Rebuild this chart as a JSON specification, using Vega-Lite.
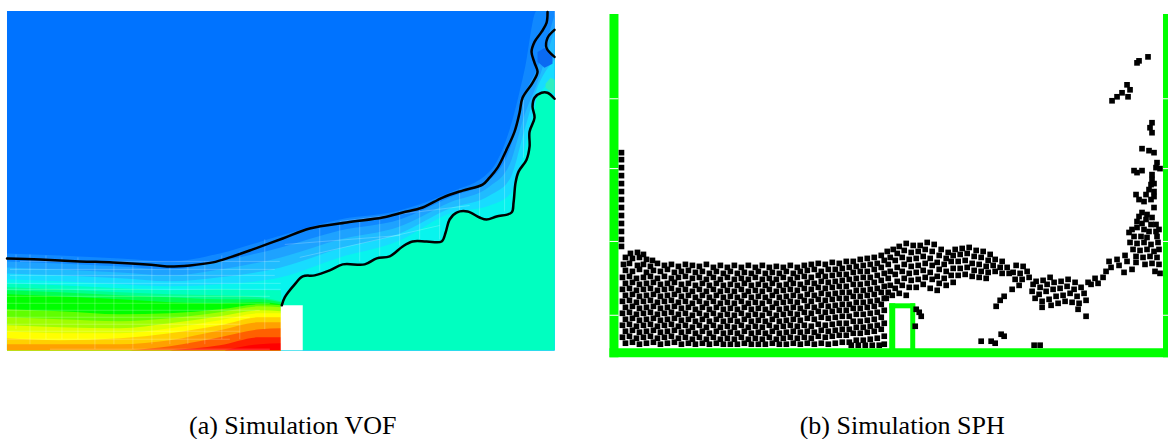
{"$schema":"https://vega.github.io/schema/vega-lite/v6.json","width":1169,"height":439,"padding":0,"autosize":{"type":"fit","contains":"padding"},"background":"white","view":{"stroke":null},
"resolve":{"scale":{"color":"independent"}},
"datasets":{
"bands":[
{"b":"bg","x":7,"y":11},{"b":"bg","x":555,"y":11},
{"b":"b1","x":7,"y":254},{"b":"b1","x":60,"y":256},{"b":"b1","x":120,"y":259},{"b":"b1","x":170,"y":262},{"b":"b1","x":220,"y":254},{"b":"b1","x":281,"y":236},{"b":"b1","x":340,"y":220},{"b":"b1","x":400,"y":211},{"b":"b1","x":450,"y":193},{"b":"b1","x":490,"y":172},{"b":"b1","x":510,"y":130},{"b":"b1","x":525,"y":70},{"b":"b1","x":537,"y":11},{"b":"b1","x":555,"y":11},
{"b":"b2","x":7,"y":262},{"b":"b2","x":60,"y":264},{"b":"b2","x":120,"y":267},{"b":"b2","x":170,"y":270},{"b":"b2","x":220,"y":262},{"b":"b2","x":281,"y":248},{"b":"b2","x":340,"y":231},{"b":"b2","x":400,"y":220},{"b":"b2","x":450,"y":198},{"b":"b2","x":490,"y":180},{"b":"b2","x":510,"y":150},{"b":"b2","x":525,"y":95},{"b":"b2","x":537,"y":70},{"b":"b2","x":555,"y":15},
{"b":"b3","x":7,"y":268},{"b":"b3","x":60,"y":270},{"b":"b3","x":120,"y":273},{"b":"b3","x":170,"y":276},{"b":"b3","x":220,"y":270},{"b":"b3","x":281,"y":258},{"b":"b3","x":340,"y":240},{"b":"b3","x":400,"y":227},{"b":"b3","x":450,"y":203},{"b":"b3","x":490,"y":187},{"b":"b3","x":510,"y":165},{"b":"b3","x":525,"y":115},{"b":"b3","x":537,"y":85},{"b":"b3","x":555,"y":30},
{"b":"b4","x":7,"y":274},{"b":"b4","x":60,"y":276},{"b":"b4","x":120,"y":279},{"b":"b4","x":170,"y":282},{"b":"b4","x":220,"y":278},{"b":"b4","x":281,"y":268},{"b":"b4","x":340,"y":249},{"b":"b4","x":400,"y":234},{"b":"b4","x":450,"y":209},{"b":"b4","x":490,"y":196},{"b":"b4","x":510,"y":180},{"b":"b4","x":525,"y":130},{"b":"b4","x":537,"y":90},{"b":"b4","x":555,"y":60},
{"b":"b5","x":7,"y":280},{"b":"b5","x":60,"y":282},{"b":"b5","x":120,"y":285},{"b":"b5","x":170,"y":287},{"b":"b5","x":220,"y":285},{"b":"b5","x":281,"y":278},{"b":"b5","x":340,"y":258},{"b":"b5","x":400,"y":241},{"b":"b5","x":450,"y":214},{"b":"b5","x":490,"y":206},{"b":"b5","x":510,"y":195},{"b":"b5","x":525,"y":150},{"b":"b5","x":537,"y":100},{"b":"b5","x":555,"y":80},
{"b":"s","x":7,"y":284},{"b":"s","x":60,"y":286},{"b":"s","x":120,"y":289},{"b":"s","x":170,"y":291},{"b":"s","x":220,"y":290},{"b":"s","x":281,"y":291},{"b":"s","x":282,"y":306},{"b":"s","x":285,"y":298},{"b":"s","x":295,"y":285},{"b":"s","x":303,"y":277},{"b":"s","x":315,"y":276},{"b":"s","x":330,"y":271},{"b":"s","x":343,"y":265},{"b":"s","x":365,"y":265},{"b":"s","x":377,"y":259},{"b":"s","x":390,"y":257},{"b":"s","x":403,"y":247},{"b":"s","x":413,"y":242},{"b":"s","x":442,"y":242},{"b":"s","x":446,"y":233},{"b":"s","x":450,"y":220},{"b":"s","x":457,"y":213},{"b":"s","x":468,"y":212},{"b":"s","x":480,"y":218},{"b":"s","x":487,"y":220},{"b":"s","x":497,"y":217},{"b":"s","x":512,"y":213},{"b":"s","x":514,"y":203},{"b":"s","x":516,"y":183},{"b":"s","x":520,"y":170},{"b":"s","x":527,"y":160},{"b":"s","x":530,"y":147},{"b":"s","x":531,"y":132},{"b":"s","x":535,"y":112},{"b":"s","x":537,"y":98},{"b":"s","x":542,"y":93},{"b":"s","x":548,"y":93},{"b":"s","x":555,"y":99},
{"b":"g1","x":7,"y":288},{"b":"g1","x":60,"y":290},{"b":"g1","x":120,"y":293},{"b":"g1","x":170,"y":295},{"b":"g1","x":220,"y":296},{"b":"g1","x":260,"y":298},{"b":"g1","x":281,"y":302},
{"b":"g2","x":7,"y":291},{"b":"g2","x":60,"y":293},{"b":"g2","x":120,"y":296},{"b":"g2","x":170,"y":298},{"b":"g2","x":220,"y":300},{"b":"g2","x":260,"y":300},{"b":"g2","x":281,"y":303},
{"b":"g3","x":7,"y":295},{"b":"g3","x":60,"y":297},{"b":"g3","x":120,"y":300},{"b":"g3","x":170,"y":303},{"b":"g3","x":220,"y":304},{"b":"g3","x":260,"y":303},{"b":"g3","x":281,"y":305},
{"b":"g4","x":7,"y":310},{"b":"g4","x":60,"y":312},{"b":"g4","x":120,"y":315},{"b":"g4","x":170,"y":314},{"b":"g4","x":220,"y":310},{"b":"g4","x":260,"y":305},{"b":"g4","x":281,"y":306},
{"b":"g5","x":7,"y":318},{"b":"g5","x":60,"y":320},{"b":"g5","x":120,"y":322},{"b":"g5","x":170,"y":319},{"b":"g5","x":220,"y":313},{"b":"g5","x":260,"y":307},{"b":"g5","x":281,"y":308},
{"b":"g6","x":7,"y":326},{"b":"g6","x":60,"y":328},{"b":"g6","x":120,"y":329},{"b":"g6","x":170,"y":324},{"b":"g6","x":220,"y":317},{"b":"g6","x":260,"y":311},{"b":"g6","x":281,"y":312},
{"b":"g7","x":7,"y":332},{"b":"g7","x":60,"y":334},{"b":"g7","x":120,"y":334},{"b":"g7","x":170,"y":329},{"b":"g7","x":220,"y":321},{"b":"g7","x":260,"y":314},{"b":"g7","x":281,"y":314},
{"b":"g8","x":7,"y":339},{"b":"g8","x":60,"y":341},{"b":"g8","x":120,"y":339},{"b":"g8","x":170,"y":334},{"b":"g8","x":220,"y":326},{"b":"g8","x":260,"y":318},{"b":"g8","x":281,"y":318},
{"b":"g9","x":7,"y":345},{"b":"g9","x":60,"y":345},{"b":"g9","x":120,"y":345},{"b":"g9","x":170,"y":341},{"b":"g9","x":220,"y":331},{"b":"g9","x":260,"y":323},{"b":"g9","x":281,"y":323},
{"b":"g10","x":130,"y":351},{"b":"g10","x":170,"y":347},{"b":"g10","x":220,"y":338},{"b":"g10","x":260,"y":330},{"b":"g10","x":281,"y":329},
{"b":"g11","x":170,"y":351},{"b":"g11","x":220,"y":346},{"b":"g11","x":260,"y":338},{"b":"g11","x":281,"y":338},
{"b":"g12","x":225,"y":351},{"b":"g12","x":260,"y":345},{"b":"g12","x":281,"y":344}
],
"patches":[
{"p":"dark","x":538,"y":52,"y2":62},{"p":"dark","x":545,"y":48,"y2":68},{"p":"dark","x":553,"y":54,"y2":64},
{"p":"mint","x":546,"y":84,"y2":88},{"p":"mint","x":551,"y":78,"y2":92},{"p":"mint","x":555,"y":80,"y2":94}
],
"grid":[
{"x":20,"x2":280,"y":262,"y2":262},{"x":10,"x2":275,"y":270,"y2":270},{"x":10,"x2":275,"y":276,"y2":276},{"x":7,"x2":281,"y":284,"y2":284},{"x":7,"x2":281,"y":290,"y2":290},{"x":7,"x2":270,"y":297,"y2":297},{"x":7,"x2":270,"y":304,"y2":304},{"x":7,"x2":260,"y":311,"y2":311},{"x":7,"x2":250,"y":318,"y2":318},{"x":7,"x2":240,"y":325,"y2":325},{"x":7,"x2":240,"y":332,"y2":332},{"x":7,"x2":230,"y":340,"y2":340},{"x":50,"x2":270,"y":350,"y2":350},
{"x":16,"x2":16,"y":255,"y2":330},{"x":30,"x2":30,"y":255,"y2":345},{"x":46,"x2":46,"y":256,"y2":340},{"x":62,"x2":62,"y":258,"y2":340},{"x":78,"x2":78,"y":258,"y2":340},{"x":95,"x2":95,"y":262,"y2":350},{"x":114,"x2":114,"y":262,"y2":345},{"x":133,"x2":133,"y":265,"y2":350},{"x":152,"x2":152,"y":265,"y2":345},{"x":170,"x2":170,"y":266,"y2":345},{"x":188,"x2":188,"y":265,"y2":345},{"x":205,"x2":205,"y":262,"y2":345},{"x":222,"x2":222,"y":256,"y2":340},{"x":240,"x2":240,"y":252,"y2":340},{"x":265,"x2":265,"y":240,"y2":330},
{"x":285,"x2":400,"y":245,"y2":236},{"x":300,"x2":440,"y":258,"y2":226},{"x":340,"x2":470,"y":222,"y2":206},{"x":320,"x2":320,"y":228,"y2":272},{"x":340,"x2":340,"y":225,"y2":266},{"x":360,"x2":360,"y":222,"y2":262},{"x":380,"x2":380,"y":219,"y2":258},{"x":400,"x2":400,"y":212,"y2":246},{"x":420,"x2":420,"y":207,"y2":240},{"x":440,"x2":440,"y":198,"y2":240},{"x":460,"x2":460,"y":190,"y2":212},{"x":480,"x2":480,"y":185,"y2":216},{"x":505,"x2":505,"y":150,"y2":212},{"x":524,"x2":524,"y":100,"y2":158}
],
"rects":[
{"k":"wall","x":610,"x2":619,"y":14,"y2":358},{"k":"wall","x":610,"x2":1169,"y":349,"y2":358},{"k":"wall","x":1164,"x2":1169,"y":14,"y2":358},
{"k":"wall","x":890,"x2":896,"y":304,"y2":350},{"k":"wall","x":911,"x2":916,"y":304,"y2":350},{"k":"wall","x":890,"x2":916,"y":304,"y2":309},
{"k":"hole","x":281,"x2":303,"y":306,"y2":351}
],
"ticks":[
{"x":610,"x2":619,"y":99},{"x":610,"x2":619,"y":169},{"x":610,"x2":619,"y":242},{"x":610,"x2":619,"y":316},
{"x":1164,"x2":1169,"y":99},{"x":1164,"x2":1169,"y":169},{"x":1164,"x2":1169,"y":242},{"x":1164,"x2":1169,"y":316}
],
"curves":[
{"c":"top","i":1,"x":548,"y":12},{"c":"top","i":2,"x":547,"y":23},{"c":"top","i":3,"x":542,"y":32},{"c":"top","i":4,"x":535,"y":42},{"c":"top","i":5,"x":532,"y":52},{"c":"top","i":6,"x":535,"y":63},{"c":"top","i":7,"x":538,"y":72},{"c":"top","i":8,"x":533,"y":83},{"c":"top","i":9,"x":523,"y":98},{"c":"top","i":10,"x":520,"y":113},{"c":"top","i":11,"x":515,"y":132},{"c":"top","i":12,"x":507,"y":150},{"c":"top","i":13,"x":498,"y":168},{"c":"top","i":14,"x":490,"y":178},{"c":"top","i":15,"x":483,"y":185},{"c":"top","i":16,"x":463,"y":191},{"c":"top","i":17,"x":443,"y":198},{"c":"top","i":18,"x":423,"y":208},{"c":"top","i":19,"x":403,"y":213},{"c":"top","i":20,"x":383,"y":218},{"c":"top","i":21,"x":347,"y":223},{"c":"top","i":22,"x":310,"y":229},{"c":"top","i":23,"x":283,"y":239},{"c":"top","i":24,"x":253,"y":250},{"c":"top","i":25,"x":230,"y":258},{"c":"top","i":26,"x":213,"y":263},{"c":"top","i":27,"x":190,"y":266},{"c":"top","i":28,"x":167,"y":267},{"c":"top","i":29,"x":147,"y":265},{"c":"top","i":30,"x":113,"y":263},{"c":"top","i":31,"x":80,"y":262},{"c":"top","i":32,"x":40,"y":260},{"c":"top","i":33,"x":7,"y":259},
{"c":"wave","i":1,"x":555,"y":99},{"c":"wave","i":2,"x":548,"y":93},{"c":"wave","i":3,"x":542,"y":93},{"c":"wave","i":4,"x":535,"y":98},{"c":"wave","i":5,"x":533,"y":107},{"c":"wave","i":6,"x":535,"y":118},{"c":"wave","i":7,"x":530,"y":132},{"c":"wave","i":8,"x":530,"y":147},{"c":"wave","i":9,"x":527,"y":160},{"c":"wave","i":10,"x":519,"y":172},{"c":"wave","i":11,"x":516,"y":183},{"c":"wave","i":12,"x":514,"y":203},{"c":"wave","i":13,"x":512,"y":213},{"c":"wave","i":14,"x":497,"y":217},{"c":"wave","i":15,"x":487,"y":220},{"c":"wave","i":16,"x":480,"y":218},{"c":"wave","i":17,"x":468,"y":212},{"c":"wave","i":18,"x":457,"y":213},{"c":"wave","i":19,"x":450,"y":220},{"c":"wave","i":20,"x":446,"y":233},{"c":"wave","i":21,"x":442,"y":242},{"c":"wave","i":22,"x":427,"y":242},{"c":"wave","i":23,"x":413,"y":242},{"c":"wave","i":24,"x":403,"y":247},{"c":"wave","i":25,"x":390,"y":257},{"c":"wave","i":26,"x":377,"y":259},{"c":"wave","i":27,"x":365,"y":265},{"c":"wave","i":28,"x":343,"y":265},{"c":"wave","i":29,"x":330,"y":271},{"c":"wave","i":30,"x":315,"y":276},{"c":"wave","i":31,"x":303,"y":277},{"c":"wave","i":32,"x":295,"y":285},{"c":"wave","i":33,"x":285,"y":298},{"c":"wave","i":34,"x":282,"y":306},
{"c":"loop","i":1,"x":555,"y":30},{"c":"loop","i":2,"x":548,"y":38},{"c":"loop","i":3,"x":547,"y":48},{"c":"loop","i":4,"x":555,"y":57}
],
"captions":[{"x":293,"y":427,"t":"(a) Simulation VOF"},{"x":903,"y":427,"t":"(b) Simulation SPH"}],
"particles":[
{"x":622,"y":153},{"x":622,"y":160},{"x":622,"y":168},{"x":622,"y":176},{"x":622,"y":184},{"x":622,"y":192},{"x":622,"y":200},{"x":622,"y":208},{"x":622,"y":216},{"x":622,"y":224},{"x":622,"y":232},{"x":622,"y":240},{"x":622,"y":247},
{"x":631,"y":254},{"x":638,"y":253},{"x":644,"y":255},{"x":626,"y":258},{"x":633,"y":259},{"x":640,"y":258},{"x":647,"y":260},{"x":653,"y":261},
{"x":624,"y":265},{"x":630,"y":264},{"x":638,"y":266},{"x":644,"y":265},{"x":651,"y":267},{"x":658,"y":264},{"x":665,"y":266},{"x":672,"y":265},{"x":679,"y":267},{"x":686,"y":265},{"x":693,"y":266},{"x":700,"y":267},{"x":707,"y":265},{"x":714,"y":268},{"x":721,"y":266},{"x":728,"y":268},{"x":735,"y":266},{"x":742,"y":268},{"x":749,"y":266},{"x":756,"y":268},{"x":763,"y":266},{"x":770,"y":268},{"x":777,"y":267},{"x":784,"y":268},{"x":791,"y":266},{"x":798,"y":268},{"x":805,"y":266},{"x":812,"y":265},{"x":819,"y":264},{"x":826,"y":265},{"x":833,"y":263},{"x":840,"y":264},{"x":847,"y":262},{"x":854,"y":262},{"x":861,"y":260},{"x":868,"y":259},{"x":875,"y":258},{"x":882,"y":256},{"x":888,"y":252},{"x":894,"y":250},
{"x":626,"y":271},{"x":633,"y":272},{"x":640,"y":270},{"x":647,"y":273},{"x":654,"y":271},{"x":661,"y":272},{"x":668,"y":270},{"x":675,"y":273},{"x":682,"y":272},{"x":689,"y":271},{"x":696,"y":273},{"x":703,"y":272},{"x":710,"y":274},{"x":717,"y":272},{"x":724,"y":274},{"x":731,"y":272},{"x":738,"y":274},{"x":745,"y":273},{"x":752,"y":274},{"x":759,"y":272},{"x":766,"y":274},{"x":773,"y":273},{"x":780,"y":274},{"x":787,"y":272},{"x":794,"y":274},{"x":801,"y":272},{"x":808,"y":271},{"x":815,"y":270},{"x":822,"y":272},{"x":829,"y":270},{"x":836,"y":270},{"x":843,"y":269},{"x":850,"y":268},{"x":857,"y":267},{"x":864,"y":266},{"x":871,"y":265},{"x":878,"y":264},{"x":885,"y":261},
{"x":623,"y":278},{"x":630,"y":277},{"x":637,"y":279},{"x":644,"y":278},{"x":651,"y":277},{"x":658,"y":279},{"x":665,"y":277},{"x":672,"y":279},{"x":679,"y":278},{"x":686,"y":277},{"x":693,"y":279},{"x":700,"y":278},{"x":707,"y":280},{"x":714,"y":278},{"x":721,"y":280},{"x":728,"y":278},{"x":735,"y":280},{"x":742,"y":279},{"x":749,"y":280},{"x":756,"y":278},{"x":763,"y":280},{"x":770,"y":279},{"x":777,"y":280},{"x":784,"y":278},{"x":791,"y":280},{"x":798,"y":278},{"x":805,"y":277},{"x":812,"y":278},{"x":819,"y":276},{"x":826,"y":277},{"x":833,"y":276},{"x":840,"y":275},{"x":847,"y":275},{"x":854,"y":273},{"x":861,"y":272},{"x":868,"y":272},{"x":875,"y":270},{"x":882,"y":268},
{"x":626,"y":284},{"x":633,"y":283},{"x":640,"y":285},{"x":647,"y":284},{"x":654,"y":283},{"x":661,"y":285},{"x":668,"y":284},{"x":675,"y":283},{"x":682,"y":285},{"x":689,"y":284},{"x":696,"y":286},{"x":703,"y":284},{"x":710,"y":286},{"x":717,"y":284},{"x":724,"y":286},{"x":731,"y":285},{"x":738,"y":286},{"x":745,"y":284},{"x":752,"y":286},{"x":759,"y":285},{"x":766,"y":286},{"x":773,"y":284},{"x":780,"y":286},{"x":787,"y":285},{"x":794,"y":284},{"x":801,"y":285},{"x":808,"y":283},{"x":815,"y":284},{"x":822,"y":282},{"x":829,"y":283},{"x":836,"y":282},{"x":843,"y":281},{"x":850,"y":280},{"x":857,"y":279},{"x":864,"y":278},{"x":871,"y":278},{"x":878,"y":276},{"x":885,"y":274},
{"x":623,"y":290},{"x":630,"y":289},{"x":637,"y":291},{"x":644,"y":290},{"x":651,"y":289},{"x":658,"y":291},{"x":665,"y":290},{"x":672,"y":289},{"x":679,"y":291},{"x":686,"y":290},{"x":693,"y":292},{"x":700,"y":290},{"x":707,"y":292},{"x":714,"y":290},{"x":721,"y":292},{"x":728,"y":291},{"x":735,"y":292},{"x":742,"y":290},{"x":749,"y":292},{"x":756,"y":291},{"x":763,"y":292},{"x":770,"y":290},{"x":777,"y":292},{"x":784,"y":291},{"x":791,"y":290},{"x":798,"y":291},{"x":805,"y":289},{"x":812,"y":290},{"x":819,"y":288},{"x":826,"y":289},{"x":833,"y":288},{"x":840,"y":287},{"x":847,"y":287},{"x":854,"y":285},{"x":861,"y":285},{"x":868,"y":284},{"x":875,"y":283},{"x":882,"y":281},
{"x":626,"y":296},{"x":633,"y":295},{"x":640,"y":297},{"x":647,"y":296},{"x":654,"y":295},{"x":661,"y":297},{"x":668,"y":296},{"x":675,"y":295},{"x":682,"y":297},{"x":689,"y":296},{"x":696,"y":298},{"x":703,"y":296},{"x":710,"y":298},{"x":717,"y":296},{"x":724,"y":298},{"x":731,"y":297},{"x":738,"y":298},{"x":745,"y":296},{"x":752,"y":298},{"x":759,"y":297},{"x":766,"y":298},{"x":773,"y":296},{"x":780,"y":298},{"x":787,"y":297},{"x":794,"y":296},{"x":801,"y":297},{"x":808,"y":295},{"x":815,"y":296},{"x":822,"y":294},{"x":829,"y":295},{"x":836,"y":294},{"x":843,"y":293},{"x":850,"y":293},{"x":857,"y":291},{"x":864,"y":291},{"x":871,"y":290},{"x":878,"y":289},{"x":885,"y":287},
{"x":623,"y":302},{"x":630,"y":301},{"x":637,"y":303},{"x":644,"y":302},{"x":651,"y":301},{"x":658,"y":303},{"x":665,"y":302},{"x":672,"y":301},{"x":679,"y":303},{"x":686,"y":302},{"x":693,"y":304},{"x":700,"y":302},{"x":707,"y":304},{"x":714,"y":302},{"x":721,"y":304},{"x":728,"y":303},{"x":735,"y":304},{"x":742,"y":302},{"x":749,"y":304},{"x":756,"y":303},{"x":763,"y":304},{"x":770,"y":302},{"x":777,"y":304},{"x":784,"y":303},{"x":791,"y":302},{"x":798,"y":303},{"x":805,"y":301},{"x":812,"y":302},{"x":819,"y":300},{"x":826,"y":301},{"x":833,"y":300},{"x":840,"y":299},{"x":847,"y":299},{"x":854,"y":297},{"x":861,"y":297},{"x":868,"y":296},{"x":875,"y":295},{"x":882,"y":293},
{"x":626,"y":308},{"x":633,"y":307},{"x":640,"y":309},{"x":647,"y":308},{"x":654,"y":307},{"x":661,"y":309},{"x":668,"y":308},{"x":675,"y":307},{"x":682,"y":309},{"x":689,"y":308},{"x":696,"y":310},{"x":703,"y":308},{"x":710,"y":310},{"x":717,"y":308},{"x":724,"y":310},{"x":731,"y":309},{"x":738,"y":310},{"x":745,"y":308},{"x":752,"y":310},{"x":759,"y":309},{"x":766,"y":310},{"x":773,"y":308},{"x":780,"y":310},{"x":787,"y":309},{"x":794,"y":308},{"x":801,"y":309},{"x":808,"y":307},{"x":815,"y":308},{"x":822,"y":306},{"x":829,"y":307},{"x":836,"y":306},{"x":843,"y":305},{"x":850,"y":305},{"x":857,"y":303},{"x":864,"y":303},{"x":871,"y":302},{"x":878,"y":301},{"x":885,"y":299},
{"x":623,"y":314},{"x":630,"y":313},{"x":637,"y":315},{"x":644,"y":314},{"x":651,"y":313},{"x":658,"y":315},{"x":665,"y":314},{"x":672,"y":313},{"x":679,"y":315},{"x":686,"y":314},{"x":693,"y":316},{"x":700,"y":314},{"x":707,"y":316},{"x":714,"y":314},{"x":721,"y":316},{"x":728,"y":315},{"x":735,"y":316},{"x":742,"y":314},{"x":749,"y":316},{"x":756,"y":315},{"x":763,"y":316},{"x":770,"y":314},{"x":777,"y":316},{"x":784,"y":315},{"x":791,"y":314},{"x":798,"y":315},{"x":805,"y":313},{"x":812,"y":314},{"x":819,"y":312},{"x":826,"y":313},{"x":833,"y":312},{"x":840,"y":311},{"x":847,"y":311},{"x":854,"y":309},{"x":861,"y":309},{"x":868,"y":308},{"x":875,"y":307},{"x":882,"y":305},
{"x":626,"y":320},{"x":633,"y":319},{"x":640,"y":321},{"x":647,"y":320},{"x":654,"y":319},{"x":661,"y":321},{"x":668,"y":320},{"x":675,"y":319},{"x":682,"y":321},{"x":689,"y":320},{"x":696,"y":322},{"x":703,"y":320},{"x":710,"y":322},{"x":717,"y":320},{"x":724,"y":322},{"x":731,"y":321},{"x":738,"y":322},{"x":745,"y":320},{"x":752,"y":322},{"x":759,"y":321},{"x":766,"y":322},{"x":773,"y":320},{"x":780,"y":322},{"x":787,"y":321},{"x":794,"y":320},{"x":801,"y":321},{"x":808,"y":319},{"x":815,"y":320},{"x":822,"y":318},{"x":829,"y":319},{"x":836,"y":318},{"x":843,"y":317},{"x":850,"y":317},{"x":857,"y":315},{"x":864,"y":315},{"x":871,"y":314},{"x":878,"y":313},{"x":885,"y":311},
{"x":623,"y":326},{"x":630,"y":325},{"x":637,"y":327},{"x":644,"y":326},{"x":651,"y":325},{"x":658,"y":327},{"x":665,"y":326},{"x":672,"y":325},{"x":679,"y":327},{"x":686,"y":326},{"x":693,"y":328},{"x":700,"y":326},{"x":707,"y":328},{"x":714,"y":326},{"x":721,"y":328},{"x":728,"y":327},{"x":735,"y":328},{"x":742,"y":326},{"x":749,"y":328},{"x":756,"y":327},{"x":763,"y":328},{"x":770,"y":326},{"x":777,"y":328},{"x":784,"y":327},{"x":791,"y":326},{"x":798,"y":327},{"x":805,"y":326},{"x":812,"y":327},{"x":819,"y":325},{"x":826,"y":326},{"x":833,"y":325},{"x":840,"y":324},{"x":847,"y":324},{"x":854,"y":322},{"x":861,"y":322},{"x":868,"y":321},{"x":875,"y":320},{"x":882,"y":318},
{"x":626,"y":332},{"x":633,"y":331},{"x":640,"y":333},{"x":647,"y":332},{"x":654,"y":331},{"x":661,"y":333},{"x":668,"y":332},{"x":675,"y":331},{"x":682,"y":333},{"x":689,"y":332},{"x":696,"y":334},{"x":703,"y":332},{"x":710,"y":334},{"x":717,"y":332},{"x":724,"y":334},{"x":731,"y":333},{"x":738,"y":334},{"x":745,"y":332},{"x":752,"y":334},{"x":759,"y":333},{"x":766,"y":334},{"x":773,"y":332},{"x":780,"y":334},{"x":787,"y":333},{"x":794,"y":332},{"x":801,"y":333},{"x":808,"y":332},{"x":815,"y":333},{"x":822,"y":331},{"x":829,"y":332},{"x":836,"y":331},{"x":843,"y":330},{"x":850,"y":330},{"x":857,"y":328},{"x":864,"y":328},{"x":871,"y":327},{"x":878,"y":326},{"x":885,"y":324},
{"x":623,"y":338},{"x":630,"y":337},{"x":637,"y":339},{"x":644,"y":338},{"x":651,"y":337},{"x":658,"y":339},{"x":665,"y":338},{"x":672,"y":337},{"x":679,"y":339},{"x":686,"y":338},{"x":693,"y":340},{"x":700,"y":338},{"x":707,"y":340},{"x":714,"y":338},{"x":721,"y":340},{"x":728,"y":339},{"x":735,"y":340},{"x":742,"y":338},{"x":749,"y":340},{"x":756,"y":339},{"x":763,"y":340},{"x":770,"y":338},{"x":777,"y":340},{"x":784,"y":339},{"x":791,"y":338},{"x":798,"y":339},{"x":805,"y":338},{"x":812,"y":339},{"x":819,"y":337},{"x":826,"y":338},{"x":833,"y":337},{"x":840,"y":336},{"x":847,"y":336},{"x":854,"y":334},{"x":861,"y":334},{"x":868,"y":333},{"x":875,"y":332},{"x":882,"y":330},
{"x":626,"y":344},{"x":633,"y":343},{"x":640,"y":345},{"x":647,"y":344},{"x":654,"y":343},{"x":661,"y":345},{"x":668,"y":344},{"x":675,"y":343},{"x":682,"y":345},{"x":689,"y":344},{"x":696,"y":345},{"x":703,"y":344},{"x":710,"y":345},{"x":717,"y":344},{"x":724,"y":345},{"x":731,"y":345},{"x":738,"y":345},{"x":745,"y":344},{"x":752,"y":345},{"x":759,"y":345},{"x":766,"y":345},{"x":773,"y":344},{"x":780,"y":345},{"x":787,"y":345},{"x":794,"y":344},{"x":801,"y":345},{"x":808,"y":344},{"x":815,"y":345},{"x":822,"y":344},{"x":829,"y":345},{"x":836,"y":344},{"x":843,"y":343},{"x":850,"y":343},{"x":857,"y":341},{"x":864,"y":341},{"x":871,"y":340},{"x":878,"y":339},{"x":885,"y":337},
{"x":885,"y":345},{"x":880,"y":346},{"x":873,"y":346},{"x":866,"y":346},{"x":859,"y":346},{"x":852,"y":346},
{"x":900,"y":247},{"x":907,"y":244},{"x":914,"y":246},{"x":921,"y":246},{"x":928,"y":243},{"x":935,"y":245},{"x":942,"y":250},{"x":949,"y":253},{"x":956,"y":250},{"x":963,"y":249},{"x":970,"y":248},{"x":977,"y":251},{"x":984,"y":252},{"x":991,"y":255},
{"x":891,"y":258},{"x":898,"y":254},{"x":905,"y":251},{"x":912,"y":253},{"x":919,"y":252},{"x":926,"y":250},{"x":933,"y":252},{"x":940,"y":256},{"x":947,"y":259},{"x":954,"y":256},{"x":961,"y":255},{"x":968,"y":254},{"x":975,"y":257},{"x":982,"y":258},{"x":989,"y":261},{"x":996,"y":260},{"x":1003,"y":262},
{"x":889,"y":265},{"x":896,"y":261},{"x":903,"y":258},{"x":910,"y":260},{"x":917,"y":259},{"x":924,"y":257},{"x":931,"y":259},{"x":938,"y":263},{"x":945,"y":265},{"x":952,"y":262},{"x":959,"y":262},{"x":966,"y":261},{"x":973,"y":264},{"x":980,"y":265},{"x":987,"y":267},{"x":994,"y":266},{"x":1001,"y":268},{"x":1008,"y":268},
{"x":891,"y":272},{"x":898,"y":268},{"x":905,"y":265},{"x":912,"y":267},{"x":919,"y":266},{"x":926,"y":264},{"x":933,"y":266},{"x":940,"y":270},{"x":947,"y":272},{"x":954,"y":269},{"x":961,"y":269},{"x":968,"y":268},{"x":975,"y":271},{"x":982,"y":272},{"x":989,"y":273},{"x":996,"y":272},{"x":1003,"y":274},{"x":1010,"y":274},{"x":1017,"y":266},{"x":1024,"y":267},
{"x":889,"y":279},{"x":896,"y":275},{"x":903,"y":272},{"x":910,"y":274},{"x":917,"y":273},{"x":924,"y":271},{"x":931,"y":273},{"x":938,"y":277},{"x":945,"y":279},{"x":952,"y":276},{"x":959,"y":276},{"x":966,"y":275},{"x":973,"y":277},{"x":980,"y":278},{"x":987,"y":279},{"x":1014,"y":273},{"x":1021,"y":274},{"x":1028,"y":272},
{"x":891,"y":286},{"x":898,"y":282},{"x":905,"y":279},{"x":912,"y":281},{"x":919,"y":280},{"x":926,"y":278},{"x":933,"y":280},{"x":940,"y":284},{"x":947,"y":286},{"x":954,"y":283},{"x":1016,"y":280},{"x":1023,"y":280},{"x":1030,"y":278},{"x":1037,"y":282},{"x":1044,"y":281},{"x":1051,"y":278},
{"x":889,"y":293},{"x":896,"y":289},{"x":903,"y":286},{"x":910,"y":288},{"x":917,"y":288},{"x":924,"y":285},{"x":931,"y":289},{"x":938,"y":291},{"x":1020,"y":286},{"x":1013,"y":290},{"x":1034,"y":285},{"x":1041,"y":288},{"x":1048,"y":285},{"x":1055,"y":283},{"x":1062,"y":282},{"x":1069,"y":280},{"x":1076,"y":283},
{"x":887,"y":299},{"x":893,"y":296},{"x":900,"y":294},{"x":907,"y":296},{"x":1005,"y":297},{"x":1001,"y":301},{"x":1033,"y":292},{"x":1040,"y":295},{"x":1047,"y":292},{"x":1054,"y":290},{"x":1061,"y":289},{"x":1068,"y":287},{"x":1075,"y":290},{"x":1082,"y":288},{"x":1089,"y":283},
{"x":997,"y":307},{"x":1036,"y":299},{"x":1043,"y":302},{"x":1050,"y":300},{"x":1057,"y":297},{"x":1064,"y":296},{"x":1071,"y":294},{"x":1078,"y":297},{"x":1085,"y":294},{"x":1092,"y":285},{"x":1099,"y":284},{"x":1096,"y":279},
{"x":1043,"y":308},{"x":1052,"y":306},{"x":1059,"y":304},{"x":1066,"y":302},{"x":1073,"y":303},{"x":1080,"y":304},{"x":1087,"y":301},{"x":1079,"y":310},{"x":1087,"y":317},{"x":1107,"y":272},{"x":1104,"y":278},{"x":1110,"y":262},{"x":1118,"y":260},{"x":1126,"y":256},{"x":1112,"y":268},{"x":1120,"y":266},{"x":1128,"y":262},{"x":1125,"y":273},{"x":1133,"y":270},{"x":1137,"y":263},
{"x":917,"y":310},{"x":920,"y":313},{"x":922,"y":317},{"x":916,"y":327},{"x":982,"y":342},{"x":992,"y":342},{"x":996,"y":344},{"x":1002,"y":335},{"x":1005,"y":337},{"x":1035,"y":346},{"x":1041,"y":346},
{"x":1149,"y":57},{"x":1140,"y":61},{"x":1138,"y":63},{"x":1128,"y":85},{"x":1131,"y":90},{"x":1129,"y":97},{"x":1123,"y":93},{"x":1118,"y":97},{"x":1113,"y":101},{"x":1153,"y":123},{"x":1151,"y":128},{"x":1153,"y":133},{"x":1143,"y":149},{"x":1150,"y":151},{"x":1155,"y":153},{"x":1158,"y":163},{"x":1157,"y":168},{"x":1161,"y":169},{"x":1135,"y":171},{"x":1138,"y":173},{"x":1143,"y":171},{"x":1153,"y":175},{"x":1153,"y":180},{"x":1152,"y":185},{"x":1155,"y":184},
{"x":1137,"y":195},{"x":1140,"y":200},{"x":1145,"y":202},{"x":1150,"y":190},{"x":1155,"y":192},{"x":1155,"y":197},{"x":1152,"y":200},{"x":1147,"y":195},{"x":1155,"y":208},{"x":1143,"y":213},{"x":1140,"y":217},{"x":1148,"y":215},{"x":1153,"y":218},{"x":1138,"y":222},{"x":1147,"y":220},{"x":1143,"y":224},{"x":1152,"y":225},{"x":1157,"y":225},{"x":1133,"y":230},{"x":1138,"y":228},{"x":1145,"y":230},{"x":1150,"y":232},{"x":1157,"y":232},{"x":1160,"y":230},{"x":1130,"y":233},{"x":1135,"y":237},{"x":1142,"y":237},{"x":1148,"y":238},{"x":1158,"y":237},
{"x":1131,"y":243},{"x":1138,"y":244},{"x":1145,"y":243},{"x":1152,"y":245},{"x":1159,"y":243},{"x":1134,"y":250},{"x":1141,"y":251},{"x":1148,"y":250},{"x":1155,"y":252},{"x":1160,"y":250},{"x":1137,"y":257},{"x":1144,"y":258},{"x":1151,"y":257},{"x":1158,"y":258},{"x":1146,"y":265},{"x":1153,"y":264},{"x":1160,"y":265},{"x":1156,"y":272},{"x":1161,"y":274}
]},
"layer":[
{"data":{"name":"bands"},"transform":[{"filter":"test(/^b/,datum.b)"}],"mark":{"type":"area","strokeWidth":0,"interpolate":"monotone"},"encoding":{
"x":{"field":"x","type":"quantitative","axis":null,"scale":{"domain":[0,1169],"nice":false,"zero":false}},
"y":{"field":"y","type":"quantitative","axis":null,"stack":null,"scale":{"domain":[439,0],"nice":false,"zero":false}},
"y2":{"datum":351},
"color":{"field":"b","type":"nominal","legend":null,"scale":{"domain":["bg","b1","b2","b3","b4","b5"],"range":["#0073ff","#1088ff","#1ea2ff","#20bcff","#18dcff","#08f4ee"]}}}},
{"data":{"name":"patches"},"mark":{"type":"area","strokeWidth":0},"encoding":{
"x":{"field":"x","type":"quantitative"},"y":{"field":"y","type":"quantitative"},"y2":{"field":"y2"},
"color":{"field":"p","type":"nominal","legend":null,"scale":{"domain":["dark","mint"],"range":["#0a6af2","#30eec0"]}}}},
{"data":{"name":"bands"},"transform":[{"filter":"datum.b==='s'"}],"mark":{"type":"area","strokeWidth":0,"color":"#00ffc0"},"encoding":{
"x":{"field":"x","type":"quantitative"},"y":{"field":"y","type":"quantitative","stack":null},"y2":{"datum":351}}},
{"data":{"name":"bands"},"transform":[{"filter":"test(/^g/,datum.b)"}],"mark":{"type":"area","strokeWidth":0,"interpolate":"monotone"},"encoding":{
"x":{"field":"x","type":"quantitative"},"y":{"field":"y","type":"quantitative","stack":null},"y2":{"datum":351},
"color":{"field":"b","type":"nominal","legend":null,"scale":{"domain":["g1","g2","g3","g4","g5","g6","g7","g8","g9","g10","g11","g12"],"range":["#00ff90","#00ff50","#00ff00","#60ff00","#a0ff00","#e0ff00","#ffff00","#ffd000","#ffa000","#ff6000","#ff2000","#ff0000"]}}}},
{"data":{"name":"grid"},"mark":{"type":"rule","stroke":"white","strokeWidth":1,"opacity":0.22},"encoding":{
"x":{"field":"x","type":"quantitative"},"x2":{"field":"x2"},"y":{"field":"y","type":"quantitative"},"y2":{"field":"y2"}}},
{"data":{"name":"rects"},"mark":{"type":"rect","strokeWidth":0},"encoding":{
"x":{"field":"x","type":"quantitative"},"x2":{"field":"x2"},"y":{"field":"y","type":"quantitative"},"y2":{"field":"y2"},
"color":{"field":"k","type":"nominal","legend":null,"scale":{"domain":["wall","hole"],"range":["#00ff00","#ffffff"]}}}},
{"data":{"name":"ticks"},"mark":{"type":"rule","stroke":"white","strokeWidth":1},"encoding":{
"x":{"field":"x","type":"quantitative"},"x2":{"field":"x2"},"y":{"field":"y","type":"quantitative"}}},
{"data":{"name":"curves"},"mark":{"type":"line","stroke":"black","strokeWidth":2.5,"interpolate":"catmull-rom","strokeCap":"round"},"encoding":{
"x":{"field":"x","type":"quantitative"},"y":{"field":"y","type":"quantitative"},"detail":{"field":"c"},"order":{"field":"i"}}},
{"data":{"name":"particles"},"mark":{"type":"point","shape":"square","filled":true,"size":32,"color":"black","opacity":1,"strokeWidth":0},"encoding":{
"x":{"field":"x","type":"quantitative"},"y":{"field":"y","type":"quantitative"}}},
{"data":{"name":"captions"},"mark":{"type":"text","font":"Liberation Serif","fontSize":26,"color":"black","align":"center","baseline":"middle"},"encoding":{
"x":{"field":"x","type":"quantitative"},"y":{"field":"y","type":"quantitative"},"text":{"field":"t"}}}
]}
